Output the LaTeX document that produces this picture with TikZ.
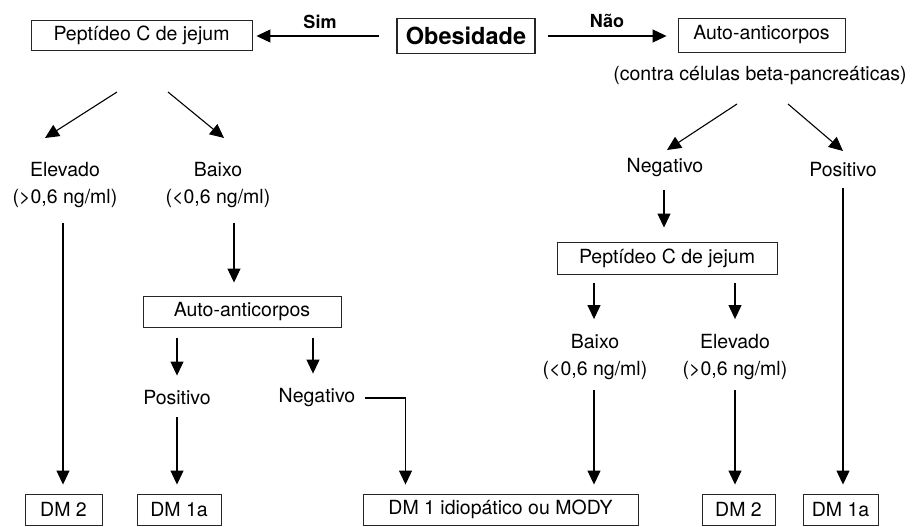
\documentclass[tikz,border=0pt]{standalone}
\usepackage{fontspec}
\setmainfont{TeX Gyre Heros}
\usepackage{tikz}
\usetikzlibrary{%
  positioning
 ,arrows.meta
 ,calc
}
\tikzstyle{box}=[draw=black!85,line width=0.9pt,minimum height=31pt,inner sep=0pt,font=\fontsize{19.5}{26}\selectfont]
\tikzstyle{txt}=[inner sep=0pt,align=center,font=\fontsize{19.5}{27}\selectfont]
\tikzstyle{lab}=[inner sep=0pt,font=\fontsize{18}{20}\selectfont\bfseries]
\tikzstyle{arr}=[-{Triangle[length=14pt,width=13pt]},line width=1.1pt,shorten >=9pt,shorten <=11pt]

\begin{document}
\begin{tikzpicture}[x=1pt,y=-1pt]
      \useasboundingbox (0,0) rectangle (913,527);
      % top row
      \node[box,line width=1.4pt,minimum width=138pt,minimum height=35pt,font=\fontsize{23.5}{26}\selectfont\bfseries] (obes) at (466,36) {Obesidade};
      \node[box,minimum width=221pt,minimum height=30pt] (pep1) at (141.5,35) {Peptídeo C de jejum};
      \node[box,minimum width=167pt,minimum height=34pt] (aut1) at (761.5,35) {Auto-anticorpos};
      \node[lab] (sim) at (320,22) {Sim};
      \node[lab] (nao) at (607,21) {Não};
      \node[txt] (contra) at (760,76) {(contra células beta-pancreáticas)};
      % left branch
      \node[txt] (elevl) at (65,185) {Elevado\\(>0,6 ng/ml)};
      \node[txt] (baixol) at (218,185) {Baixo\\(<0,6 ng/ml)};
      \node[box,minimum width=198pt] (aut2) at (242,311.5) {Auto-anticorpos};
      \node[txt] (posl) at (177,398) {Positivo};
      \node[txt] (negl) at (317,398) {Negativo};
      % right branch
      \node[txt] (negr) at (665,168) {Negativo};
      \node[txt] (posr) at (843,170) {Positivo};
      \node[box,minimum width=220pt,minimum height=32pt] (pep3) at (667,258) {Peptídeo C de jejum};
      \node[txt] (baixor) at (595,357) {Baixo\\(<0,6 ng/ml)};
      \node[txt] (elevr) at (735,357) {Elevado\\(>0,6 ng/ml)};
      % results
      \node[box,minimum width=77pt] (dm2l) at (63.5,509.5) {DM 2};
      \node[box,minimum width=84pt] (dm1al) at (179,509.5) {DM 1a};
      \node[box,minimum width=275pt] (dmid) at (500.5,509.5) {DM 1 idiopático ou MODY};
      \node[box,minimum width=73pt] (dm2r) at (738.5,509.5) {DM 2};
      \node[box,minimum width=75pt] (dm1ar) at (840.5,509.5) {DM 1a};
      % diagonal starts and ends
      \coordinate (p1a) at (117,92);
      \coordinate (p1b) at (168,92);
      \coordinate (e1) at (45,138);
      \coordinate (b1) at (224,138);
      \coordinate (a1a) at (737,104);
      \coordinate (a1b) at (788,104);
      \coordinate (n1) at (667,150);
      \coordinate (q1) at (843,151);
      \path[arr,shorten >=0pt,shorten <=0pt]
        (p1a) edge (e1)
        (p1b) edge (b1)
        (a1a) edge (n1)
        (a1b) edge (q1);
      \draw[arr,shorten <=17pt,shorten >=4pt] (obes.west) -- (obes.west -| pep1.east);
      \draw[arr,shorten <=12pt,shorten >=11pt] (obes.east) -- (obes.east -| aut1.west);
      % verticals
      \draw[arr,shorten <=15pt] ([xshift=-2pt]elevl.south) -- ([xshift=-2pt]elevl.south |- dm2l.north);
      \draw[arr,shorten <=15pt,shorten >=13pt] ([xshift=16pt]baixol.south) -- ([xshift=16pt]baixol.south |- aut2.north);
      \draw[arr,shorten >=15pt] (posl.north |- aut2.south) -- (posl.north);
      \draw[arr,shorten >=15pt] ([xshift=-4pt]negl.north |- aut2.south) -- ([xshift=-4pt]negl.north);
      \draw[arr,shorten <=12pt] (posl.south) -- (posl.south |- dm1al.north);
      \draw[arr,shorten <=10pt] (negl.east) -| ([xshift=-95pt]dmid.north);
      \draw[arr,shorten <=13pt,shorten >=14pt] ([xshift=-1pt]negr.south) -- ([xshift=-1pt]negr.south |- pep3.north);
      \draw[arr,shorten <=9pt,shorten >=15pt] ([xshift=-1pt]baixor.north |- pep3.south) -- ([xshift=-1pt]baixor.north);
      \draw[arr,shorten <=9pt,shorten >=15pt] (elevr.north |- pep3.south) -- (elevr.north);
      \draw[arr,shorten <=10pt] ([xshift=-1pt]baixor.south) -- ([xshift=-1pt]baixor.south |- dmid.north);
      \draw[arr,shorten <=10pt] (elevr.south) -- (elevr.south |- dm2r.north);
      \draw[arr,shorten <=11pt] (posr.south) -- (posr.south |- dm1ar.north);
    \end{tikzpicture}
\end{document}
